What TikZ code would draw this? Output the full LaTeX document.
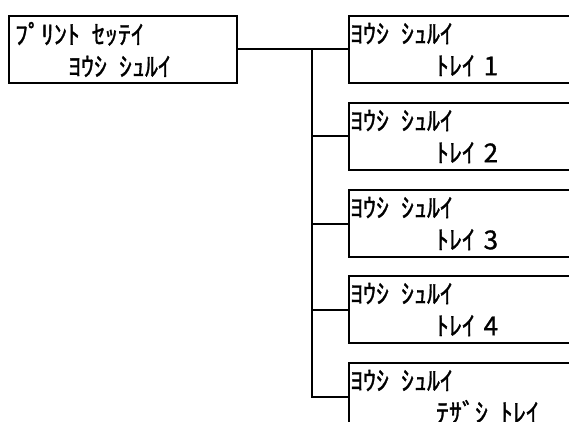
\documentclass[tikz,border=0pt]{standalone}
\usepackage{fontspec}
\newfontfamily\jpfont[FakeBold=1.2]{Noto Sans CJK JP}
\usetikzlibrary{positioning}
\tikzset{
  wire/.style={line width=2pt, draw=black},
  menubox/.style={draw=black, line width=2pt, rectangle, anchor=north west, minimum height=67pt, align=left, inner ysep=0pt,
    font=\jpfont\fontsize{26}{32}\selectfont},
  trayitem/.style={menubox, minimum width=240pt, inner xsep=1pt, text width=238pt}
}
\newcommand{\kgap}{\hspace{12pt}}
\begin{document}
\begin{tikzpicture}[x=1pt, y=-1pt]
  \useasboundingbox (0,0) rectangle (569,422);
  \clip (0,0) rectangle (569,422);

  \node[menubox, minimum width=228pt, inner xsep=6pt, text width=216pt] (print) at (8,15)
    {ﾌﾟﾘﾝﾄ\kgap ｾｯﾃｲ\\\hspace*{53pt}ﾖｳｼ\kgap ｼｭﾙｲ};

  % paper type per tray
  \foreach \i/\y/\lbl in {1/15/ﾄﾚｲ 1, 2/102/ﾄﾚｲ 2, 3/189/ﾄﾚｲ 3, 4/275/ﾄﾚｲ 4, 5/362/ﾃｻﾞｼ\kgap ﾄﾚｲ}
    \node[trayitem] (tray\i) at (348,\y) {ﾖｳｼ\kgap ｼｭﾙｲ\\\hspace*{86pt}\lbl};

  \coordinate (fork) at (312,49);
  \draw[wire] (print.east) -- (tray1.west);
  \foreach \i in {2,...,5}
    \draw[wire] (fork) |- (tray\i.west);
\end{tikzpicture}
\end{document}
